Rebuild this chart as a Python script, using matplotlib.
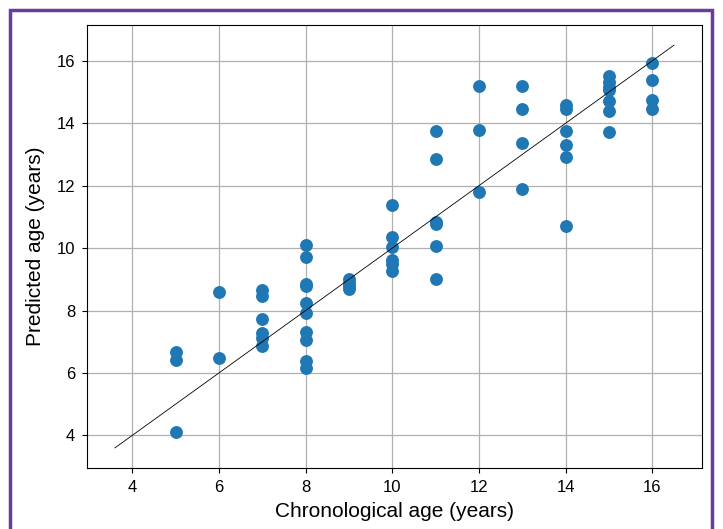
import matplotlib.pyplot as plt
from matplotlib.patches import Rectangle

plt.rcParams['font.family'] = ['Liberation Sans Narrow', 'Liberation Sans', 'DejaVu Sans']

# chronological age vs predicted age
chrono = [5, 5, 5,
          6, 6,
          7, 7, 7, 7, 7, 7,
          8, 8, 8, 8, 8, 8, 8, 8, 8, 8,
          9, 9, 9, 9,
          10, 10, 10, 10, 10, 10,
          11, 11, 11, 11, 11, 11,
          12, 12, 12,
          13, 13, 13, 13,
          14, 14, 14, 14, 14, 14,
          15, 15, 15, 15, 15, 15, 15,
          16, 16, 16, 16]
predicted = [6.68, 6.42, 4.10,
             8.58, 6.48,
             8.65, 8.48, 7.73, 7.27, 7.13, 6.86,
             10.10, 9.70, 8.85, 8.80, 8.25, 7.93, 7.30, 7.04, 6.38, 6.15,
             9.00, 8.88, 8.78, 8.68,
             11.38, 10.35, 10.04, 9.62, 9.48, 9.28,
             13.75, 12.85, 10.85, 10.78, 10.08, 9.02,
             15.18, 13.79, 11.79,
             15.20, 14.45, 13.37, 11.90,
             14.57, 14.44, 13.75, 13.30, 12.92, 10.71,
             15.51, 15.32, 15.15, 15.07, 14.70, 14.38, 13.72,
             15.93, 15.39, 14.75, 14.45]

# identity line
line_x = [3.6, 16.5]

fig = plt.figure(figsize=(7.23, 5.29), dpi=100)
ax = fig.add_axes([0.1203, 0.1153, 0.8506, 0.8374])

ax.scatter(chrono, predicted, s=68, color='#1f77b4', zorder=3)
ax.plot(line_x, line_x, color='black', lw=0.6, zorder=4)

ax.grid(True, color='#b0b0b0', lw=0.9)
ax.set_axisbelow(True)
ax.set_xticks([4, 6, 8, 10, 12, 14, 16])
ax.set_yticks([4, 6, 8, 10, 12, 14, 16])
ax.tick_params(labelsize=12, pad=5)
ax.set_xlabel('Chronological age (years)', fontsize=15, labelpad=5)
ax.set_ylabel('Predicted age (years)', fontsize=15, labelpad=8)

# purple frame round the figure
fig.patches.append(Rectangle((10 / 723, -0.05), 702 / 723, 1 - 10 / 529 + 0.05,
                             transform=fig.transFigure, fill=False,
                             edgecolor='#6a3d9a', lw=2.5))

plt.savefig('out.png', dpi=100)
